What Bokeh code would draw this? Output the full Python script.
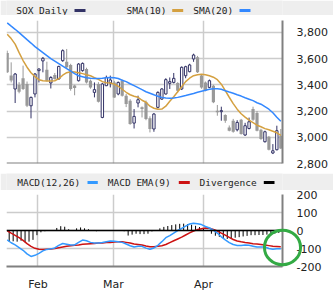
import numpy as np
from bokeh.plotting import figure
from bokeh.layouts import column
from bokeh.models import (Range1d, FixedTicker, NumeralTickFormatter, Span,
                          ColumnDataSource)
from bokeh.core.properties import value
from bokeh.embed import file_html
from bokeh.resources import INLINE

# ---------------- data ----------------
opens = [3643, 3470, 3368, 3398, 3449, 3406, 3240, 3330, 3508, 3582,
         3515, 3414, 3475, 3444, 3584, 3576, 3551, 3395, 3431, 3508,
         3520, 3431, 3342, 3406, 3151, 3393, 3414, 3418, 3330, 3431,
         3317, 3279, 3108, 3261, 3228, 3266, 3144, 3063, 3228, 3291,
         3330, 3411, 3418, 3414, 3368, 3469, 3500, 3597, 3609, 3470,
         3418, 3380, 3393, 3202, 3195, 3169, 3075, 3126, 3057, 3134,
         3017, 3067, 3215, 3185, 3057, 2966, 3004, 2880, 2905, 3012]
highs = [3660, 3571, 3490, 3420, 3546, 3425, 3310, 3490, 3526, 3612,
         3576, 3465, 3490, 3545, 3670, 3673, 3560, 3400, 3565, 3570,
         3530, 3440, 3418, 3420, 3415, 3470, 3470, 3430, 3425, 3440,
         3330, 3290, 3215, 3317, 3235, 3280, 3160, 3185, 3350, 3375,
         3450, 3456, 3490, 3420, 3540, 3545, 3560, 3637, 3620, 3475,
         3425, 3440, 3400, 3246, 3233, 3175, 3090, 3140, 3130, 3140,
         3110, 3150, 3233, 3200, 3065, 3050, 3010, 2948, 3088, 3063]
lows = [3490, 3418, 3261, 3335, 3360, 3230, 3144, 3304, 3418, 3495,
        3425, 3372, 3440, 3440, 3575, 3525, 3355, 3320, 3425, 3500,
        3410, 3370, 3304, 3265, 3145, 3390, 3380, 3300, 3320, 3310,
        3230, 3095, 3067, 3228, 3151, 3130, 3037, 3042, 3220, 3285,
        3325, 3368, 3410, 3340, 3360, 3450, 3495, 3575, 3490, 3370,
        3350, 3375, 3260, 3164, 3126, 3110, 3045, 3035, 3045, 3020,
        3010, 3060, 3125, 3045, 2980, 2960, 2900, 2872, 2900, 2910]
closes = [3495, 3432, 3482, 3347, 3368, 3240, 3304, 3482, 3520, 3602,
          3431, 3456, 3444, 3540, 3660, 3533, 3368, 3375, 3558, 3563,
          3418, 3380, 3363, 3271, 3406, 3456, 3437, 3304, 3418, 3317,
          3253, 3101, 3159, 3286, 3215, 3139, 3063, 3177, 3342, 3368,
          3439, 3424, 3449, 3355, 3533, 3538, 3551, 3627, 3495, 3380,
          3355, 3431, 3266, 3190, 3203, 3126, 3050, 3042, 3113, 3024,
          3088, 3118, 3134, 3050, 2986, 3042, 2905, 2897, 3050, 2915]
sma10 = [3786, 3752, 3710, 3645, 3585, 3534, 3492, 3462, 3439, 3431,
         3429, 3429, 3431, 3447, 3473, 3492, 3500, 3498, 3492, 3485,
         3477, 3469, 3454, 3441, 3424, 3416, 3414, 3405, 3389, 3366,
         3343, 3324, 3313, 3305, 3282, 3267, 3237, 3221, 3214, 3215,
         3237, 3275, 3309, 3347, 3385, 3424, 3450, 3469, 3477, 3481,
         3477, 3469, 3458, 3439, 3405, 3355, 3305, 3256, 3214, 3179,
         3153, 3130, 3111, 3092, 3080, 3066, 3057, 3046, 3034, 3015]
sma20 = [3872, 3847, 3823, 3798, 3771, 3744, 3718, 3691, 3668, 3645,
         3622, 3599, 3580, 3561, 3542, 3523, 3504, 3485, 3469, 3462,
         3454, 3450, 3448, 3448, 3450, 3454, 3456, 3454, 3448, 3435,
         3424, 3408, 3393, 3378, 3363, 3347, 3336, 3324, 3313, 3304,
         3299, 3298, 3300, 3304, 3311, 3318, 3326, 3334, 3343, 3351,
         3359, 3366, 3370, 3370, 3366, 3355, 3345, 3336, 3324, 3314,
         3301, 3290, 3279, 3263, 3252, 3233, 3214, 3187, 3153, 3122]
macd = [-52, -68, -80, -95, -110, -130, -144, -138, -127, -113,
        -105, -102, -97, -83, -72, -76, -81, -80, -66, -53,
        -57, -66, -69, -69, -67, -62, -58, -60, -63, -66,
        -75, -85, -92, -88, -88, -98, -104, -97, -82, -62,
        -40, -28, -14, 0, 12, 24, 36, 40, 38, 33,
        22, 14, 2, -14, -35, -52, -67, -78, -83, -83,
        -80, -82, -87, -92, -92, -92, -100, -104, -102, -101]
macd_ema = [-2, -15, -27, -40, -55, -73, -88, -99, -104, -105,
            -104, -103, -100, -96, -92, -88, -85, -82, -80, -77,
            -75, -73, -72, -70, -69, -67, -66, -64, -63, -63,
            -66, -70, -75, -78, -81, -86, -90, -90, -88, -85,
            -78, -67, -57, -47, -37, -25, -13, -3, 5, 10,
            14, 12, 6, -3, -15, -26, -38, -50, -58, -63,
            -67, -70, -73, -75, -78, -81, -84, -88, -89, -90]
divergence = [-62, -60, -62, -57, -65, -62, -52, -26, -10, -4,
              0, 0, 14, 24, 21, 7, 0, 12, 17, 12,
              7, 0, -4, 0, 0, 0, 0, 0, 0, -4,
              -28, -23, -18, -20, -20, -18, -5, 0, 12, 20,
              25, 30, 34, 37, 38, 36, 32, 26, 19, 12,
              3, -18, -29, -35, -42, -47, -45, -40, -37, -33,
              -30, -26, -26, -25, -25, -23, -20, -17, -14, -10]
month_labels = ["Feb", "Mar", "Apr"]
month_pos = [7.75, 26.8, 49.5]
price_ticks = [2800, 3000, 3200, 3400, 3600, 3800]
macd_ticks = [-200, -100, 0, 100, 200]

# ---------------- style ----------------
W = 333
BL, BR = 6, 51          # left / right borders of every plot frame
FONT = "DejaVu Sans"
MONO = "DejaVu Sans Mono"
NAVY = "#333366"
GRAY = "#999999"
ORANGE = "#d4a040"
BLUE = "#3388ff"
MBLUE = "#3399ff"
RED = "#cc1111"
GRID = "#cccccc"
BORDER = "#808080"
TXT = "#222222"
BAR = "#eeeeee"

idx = list(range(len(opens)))


def legend_fig(h, ty, items):
    # frame spans pixels BL..W-BR, so the x range is expressed in pixels
    f = figure(width=W, height=h, x_range=Range1d(BL, W - BR), y_range=Range1d(h, 0),
               output_backend="svg", toolbar_location=None,
               x_axis_type=None, y_axis_type=None,
               min_border_left=BL, min_border_right=BR,
               min_border_top=0, min_border_bottom=0)
    f.outline_line_color = None
    f.grid.visible = False
    f.background_fill_color = BAR
    f.border_fill_color = BAR
    for label, tx, s0, s1, col in items:
        f.text(x=[tx], y=[ty], text=[label], text_font=value(MONO),
               text_font_size="9.5px", text_baseline="middle", text_color=TXT)
        f.quad(left=[s0], right=[s1], top=[ty - 1.4], bottom=[ty + 1.4],
               fill_color=col, line_color=None)
    return f


leg1 = legend_fig(15, 10, [("SOX Daily", 15.7, 74, 85, NAVY),
                           ("SMA(10)", 126, 171.7, 182.7, ORANGE),
                           ("SMA(20)", 192.7, 239, 250, BLUE)])
leg2 = legend_fig(17, 9, [("MACD(12,26)", 16.7, 87, 97.3, MBLUE),
                          ("MACD EMA(9)", 107.3, 178.3, 189.3, RED),
                          ("Divergence", 199, 263.3, 274, "#000000")])

xr = Range1d(-0.18, 69.43)


def style_axes(f, yticks, yfmt):
    f.outline_line_color = None
    f.background_fill_color = "white"
    f.border_fill_color = "white"
    ya = f.yaxis[0]
    ya.ticker = FixedTicker(ticks=yticks)
    ya.formatter = NumeralTickFormatter(format=yfmt)
    ya.axis_line_color = BORDER
    ya.axis_line_width = 2
    ya.major_tick_line_color = None
    ya.minor_tick_line_color = None
    ya.major_label_standoff = 8
    ya.major_label_text_font = FONT
    ya.major_label_text_font_size = "11px"
    ya.major_label_text_color = TXT
    xa = f.xaxis[0]
    xa.ticker = FixedTicker(ticks=month_pos)
    xa.major_label_overrides = {p: l for p, l in zip(month_pos, month_labels)}
    xa.axis_line_color = BORDER
    xa.axis_line_width = 2
    xa.major_tick_line_color = None
    xa.minor_tick_line_color = None
    xa.major_label_standoff = 5
    xa.major_label_text_font = FONT
    xa.major_label_text_font_size = "11px"
    xa.major_label_text_color = TXT
    f.grid.grid_line_color = GRID
    f.grid.grid_line_width = 1.5


# ---------------- main price chart ----------------
p = figure(width=W, height=158, x_range=xr, y_range=Range1d(2800, 3890),
           y_axis_location="right", output_backend="svg", toolbar_location=None,
           min_border_left=BL, min_border_right=BR, min_border_top=5,
           min_border_bottom=10)
style_axes(p, price_ticks, "0,0")
p.xaxis.visible = False
p.add_layout(Span(location=2800, dimension="width", line_color=BORDER, line_width=2))

up = [i for i in idx if closes[i] >= opens[i]]
dn = [i for i in idx if closes[i] < opens[i]]
src_up = ColumnDataSource(dict(x=up, o=[opens[i] for i in up], c=[closes[i] for i in up],
                               h=[highs[i] for i in up], l=[lows[i] for i in up]))
src_dn = ColumnDataSource(dict(x=dn, o=[opens[i] for i in dn], c=[closes[i] for i in dn],
                               h=[highs[i] for i in dn], l=[lows[i] for i in dn]))
p.segment(x0="x", y0="l", x1="x", y1="h", source=src_dn, line_color=GRAY, line_width=1)
p.vbar(x="x", width=0.8, top="o", bottom="c", source=src_dn,
       fill_color=GRAY, line_color=None)
p.segment(x0="x", y0="l", x1="x", y1="h", source=src_up, line_color=NAVY, line_width=1)
p.vbar(x="x", width=0.6, top="c", bottom="o", source=src_up,
       fill_color="white", line_color=NAVY, line_width=1)
p.line(idx, sma10, line_color=ORANGE, line_width=1.5)
p.line(idx, sma20, line_color=BLUE, line_width=1.5)

# ---------------- MACD chart ----------------
m = figure(width=W, height=103, x_range=xr, y_range=Range1d(-200, 200),
           y_axis_location="right", output_backend="svg", toolbar_location=None,
           min_border_left=BL, min_border_right=BR, min_border_top=4,
           min_border_bottom=21)
style_axes(m, macd_ticks, "0")
hx = [i + 0.5 for i in idx]
m.segment(x0=hx, y0=[0] * len(hx), x1=hx, y1=divergence, line_color="black", line_width=1)
m.add_layout(Span(location=0, dimension="width", line_color="black", line_width=1.5))
m.line(idx, macd_ema, line_color=RED, line_width=1.5)
m.line(idx, macd, line_color=MBLUE, line_width=1.5)

# green highlight ring at the right end, drawn on the overlay level (not clipped to the frame)
m.ellipse(x=[69.43], y=[-94], width=9.1, height=192, fill_color=None,
          line_color="#33aa44", line_width=3, level="overlay")

layout = column(leg1, p, leg2, m, spacing=0)
open("out.html", "w").write(file_html(layout, INLINE))
